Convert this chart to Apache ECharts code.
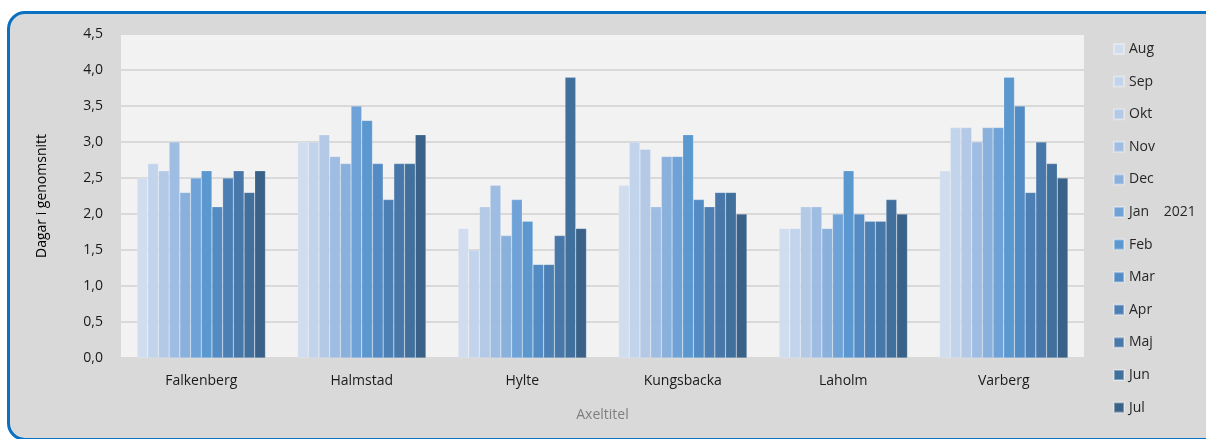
<!DOCTYPE html>
<html>
<head>
<meta charset="utf-8">
<script src="https://cdn.jsdelivr.net/npm/echarts@6/dist/echarts.min.js"></script>
<style>
  html, body { margin: 0; padding: 0; background: #fff; overflow: hidden; }
  .frame {
    position: absolute; left: 7px; top: 11px; width: 1220px; height: 424px;
    background: #d9d9d9; border: 3px solid #0a70c2; border-radius: 18px;
  }
  #chart { position: absolute; left: 0; top: 0; width: 1206px; height: 439px; }
</style>
</head>
<body>
<div class="frame"></div>
<div id="chart"></div>
<script>
// kommuner och månader
const kommuner = ['Falkenberg', 'Halmstad', 'Hylte', 'Kungsbacka', 'Laholm', 'Varberg']
const manader = ['Aug', 'Sep', 'Okt', 'Nov', 'Dec', 'Jan', 'Feb', 'Mar', 'Apr', 'Maj', 'Jun', 'Jul']
const farger = ['#d0ddef', '#c2d4ec', '#b3c9e6', '#9fbde3', '#8ab0dc', '#6fa3d8', '#5b98d0', '#538bc4', '#4c80b4', '#4877aa', '#41709c', '#3a6289']

// värden per kommun, Aug..Jul
const falkenberg = [2.5, 2.7, 2.6, 3.0, 2.3, 2.5, 2.6, 2.1, 2.5, 2.6, 2.3, 2.6]
const halmstad = [3.0, 3.0, 3.1, 2.8, 2.7, 3.5, 3.3, 2.7, 2.2, 2.7, 2.7, 3.1]
const hylte = [1.8, 1.5, 2.1, 2.4, 1.7, 2.2, 1.9, 1.3, 1.3, 1.7, 3.9, 1.8]
const kungsbacka = [2.4, 3.0, 2.9, 2.1, 2.8, 2.8, 3.1, 2.2, 2.1, 2.3, 2.3, 2.0]
const laholm = [1.8, 1.8, 2.1, 2.1, 1.8, 2.0, 2.6, 2.0, 1.9, 1.9, 2.2, 2.0]
const varberg = [2.6, 3.2, 3.2, 3.0, 3.2, 3.2, 3.9, 3.5, 2.3, 3.0, 2.7, 2.5]

const perKommun = [falkenberg, halmstad, hylte, kungsbacka, laholm, varberg]
const font = 'Open Sans'

let series = manader.map((m, i) => ({
  name: m,
  type: 'bar',
  barGap: '0%',
  barCategoryGap: '20%',
  itemStyle: { color: farger[i], borderColor: 'rgba(255,255,255,0.35)', borderWidth: 0.5 },
  data: perKommun.map(k => k[i])
}))

let myEcharts = echarts.init(document.getElementById('chart'))
let option = {
  animation: false,
  textStyle: { fontFamily: font },
  grid: {
    left: 121, right: 122, top: 34, bottom: 81,
    show: true, backgroundColor: '#f2f2f2', borderWidth: 0
  },
  legend: {
    orient: 'vertical',
    left: 1108,
    top: 37,
    itemWidth: 10,
    itemHeight: 10,
    itemGap: 18.6,
    itemTextGap: 5,
    icon: 'rect',
    data: manader,
    formatter: name => name === 'Jan' ? 'Jan    2021' : name,
    textStyle: { fontFamily: font, fontSize: 14, color: '#262626', lineHeight: 14 }
  },
  xAxis: {
    type: 'category',
    data: kommuner,
    name: 'Axeltitel',
    nameLocation: 'middle',
    nameGap: 50,
    nameTextStyle: { fontFamily: font, fontSize: 14, color: '#7f7f7f' },
    axisLine: { show: false },
    axisTick: { show: false },
    axisLabel: { fontFamily: font, fontSize: 14, color: '#1a1a1a', margin: 16 }
  },
  yAxis: {
    type: 'value',
    min: 0,
    max: 4.5,
    interval: 0.5,
    name: 'Dagar i genomsnitt',
    nameLocation: 'middle',
    nameGap: 72,
    nameTextStyle: { fontFamily: font, fontSize: 14, color: '#000' },
    axisLine: { show: false },
    axisTick: { show: false },
    axisLabel: {
      fontFamily: font, fontSize: 14, color: '#1a1a1a', margin: 18,
      formatter: v => v.toFixed(1).replace('.', ',')
    },
    splitLine: { lineStyle: { color: '#d9d9d9', width: 2 } }
  },
  series: series
}
myEcharts.setOption(option)
</script>
</body>
</html>
